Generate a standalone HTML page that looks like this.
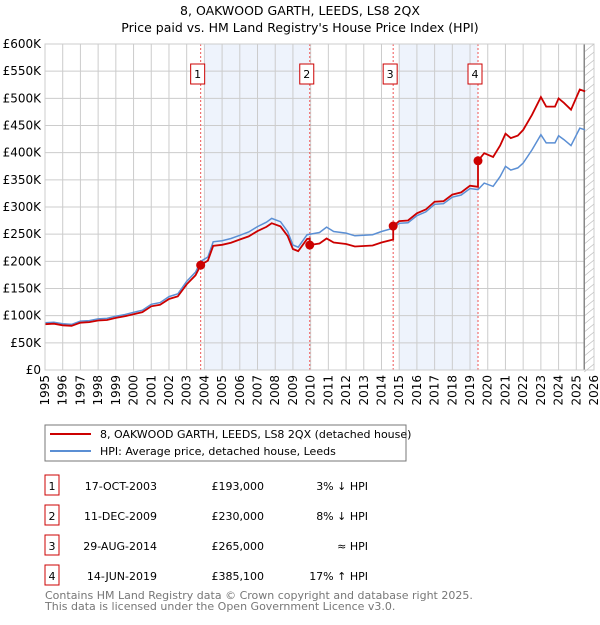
<!DOCTYPE html>
<html><head><meta charset="utf-8"><style>
body{margin:0;width:600px;height:620px;background:#fff;font-family:"Liberation Sans","DejaVu Sans",sans-serif;overflow:hidden}
svg text{font-family:"DejaVu Sans","Liberation Sans",sans-serif}
</style></head><body>
<svg id="c" width="600" height="620" xmlns="http://www.w3.org/2000/svg">
<text x="300" y="15" text-anchor="middle" font-size="12.5">8, OAKWOOD GARTH, LEEDS, LS8 2QX</text>
<text x="300" y="32" text-anchor="middle" font-size="12.5">Price paid vs. HM Land Registry's House Price Index (HPI)</text>
<g id="plot"></g>
<rect x="45" y="425" width="361" height="36" fill="#fff" stroke="#777"/>
<line x1="50" y1="434" x2="91" y2="434" stroke="#cc0000" stroke-width="2"/>
<text x="100" y="438" font-size="11">8, OAKWOOD GARTH, LEEDS, LS8 2QX (detached house)</text>
<line x1="50" y1="451" x2="91" y2="451" stroke="#5b8fd4" stroke-width="2"/>
<text x="100" y="455" font-size="11">HPI: Average price, detached house, Leeds</text>
<g id="table" font-size="11"></g>
<text x="45" y="599" font-size="11" fill="#777">Contains HM Land Registry data © Crown copyright and database right 2025.</text>
<text x="45" y="610" font-size="11" fill="#777">This data is licensed under the Open Government Licence v3.0.</text>
</svg>
<script>
const hpiYears=[1995,1995.5,1996,1996.5,1997,1997.5,1998,1998.5,1999,1999.5,2000,2000.5,2001,2001.5,2002,2002.5,2003,2003.5,2003.8,2004.2,2004.5,2005,2005.5,2006,2006.5,2007,2007.5,2007.8,2008.3,2008.7,2009,2009.3,2009.8,2010.5,2010.9,2011.3,2012,2012.5,2013,2013.5,2014,2014.66,2015,2015.5,2016,2016.5,2017,2017.5,2018,2018.5,2019,2019.45,2019.8,2020.3,2020.7,2021,2021.3,2021.7,2022,2022.5,2023,2023.3,2023.8,2024,2024.3,2024.7,2025.2,2025.5];
const hpiValues=[87,88,85,84,90,91,94,95,99,102,106,110,121,124,135,140,163,180,200,208,236,238,242,248,254,264,272,279,273,255,230,226,249,253,263,255,252,247,248,249,255,261,270,271,284,291,305,306,318,322,334,332,344,338,356,375,368,372,381,405,433,418,418,431,424,413,445,442];
const saleNums=["1","2","3","4"];
const saleDates=["17-OCT-2003","11-DEC-2009","29-AUG-2014","14-JUN-2019"];
const saleYears=[2003.79,2009.95,2014.66,2019.45];
const salePrices=[193000,230000,265000,385100];
const saleNotes=["3% ↓ HPI","8% ↓ HPI","≈ HPI","17% ↑ HPI"];
const yTicks=[0,50,100,150,200,250,300,350,400,450,500,550,600];
const xTicks=[];for(let y=1995;y<=2026;y++)xTicks.push(y);

const X0=45,X1=594,Y0=370,Y1=44;
const xs=y=>X0+(y-1995)/31*(X1-X0);
const ys=v=>Y0-v/600*(Y0-Y1);
const NS="http://www.w3.org/2000/svg";
const g=document.getElementById('plot');
function mk(t,a,p){const e=document.createElementNS(NS,t);for(const k in a)e.setAttribute(k,a[k]);(p||g).appendChild(e);return e;}
function hpiAt(t){for(let i=0;i<hpiYears.length-1;i++){if(t<=hpiYears[i+1]){const f=(t-hpiYears[i])/(hpiYears[i+1]-hpiYears[i]);return hpiValues[i]+f*(hpiValues[i+1]-hpiValues[i]);}}return hpiValues[hpiValues.length-1];}
[[0,1],[2,3]].forEach((p,i)=>{const r=mk('rect',{x:xs(Math.ceil(saleYears[p[0]])),y:Y1,width:xs(saleYears[p[1]])-xs(Math.ceil(saleYears[p[0]])),height:Y0-Y1,fill:'#eef3fc'});

});
yTicks.forEach(v=>{const l=mk('line',{x1:X0,x2:X1,y1:ys(v),y2:ys(v),stroke:'#ccc'});


const t=mk('text',{x:X0-4,y:ys(v)+4,'text-anchor':'end','font-size':12});t.textContent=v===0?'£0':'£'+v+'K';

});
xTicks.forEach(y=>{const l=mk('line',{x1:xs(y),x2:xs(y),y1:Y1,y2:Y0,stroke:'#ccc'});


const t=mk('text',{x:0,y:0,'font-size':12,'text-anchor':'end',transform:`translate(${xs(y)+4},${Y0+5}) rotate(-90)`});t.textContent=y;

});
const hx=xs(2025.45);
const hr=mk('rect',{x:hx,y:Y1,width:X1-hx,height:Y0-Y1,fill:'#fff',stroke:'none'});


for(let k=Y1;k<Y0;k+=8){const l=mk('line',{x1:hx,y1:k+8,x2:X1,y2:k,stroke:'#bbb','stroke-width':0.7});}
const hl=mk('line',{x1:hx,x2:hx,y1:Y1,y2:Y0,stroke:'#888','stroke-width':1.5});


saleYears.forEach((y,i)=>{const l=mk('line',{x1:xs(y),x2:xs(y),y1:Y1,y2:Y0,stroke:'#e55','stroke-dasharray':'2,2'});


const bx=xs(y)-10,r=mk('rect',{x:bx,y:64,width:14,height:20,fill:'#fff',stroke:'#cc0000'});


const t=mk('text',{x:bx+7,y:78,'text-anchor':'middle','font-size':11});t.textContent=saleNums[i];

});
const hp=mk('path',{d:hpiYears.map((y,i)=>(i?'L':'M')+xs(y).toFixed(1)+','+ys(hpiValues[i]).toFixed(1)).join(''),fill:'none',stroke:'#5b8fd4','stroke-width':1.5});


let pts=[];const first=salePrices[0]/1000/hpiAt(saleYears[0]);
function ratioAt(t){let r=first;saleYears.forEach((sy,i)=>{if(t>=sy)r=salePrices[i]/1000/hpiAt(sy);});return r;}
const allT=hpiYears.concat(saleYears.map(s=>s-0.001),saleYears).sort((a,b)=>a-b);
allT.forEach(t=>pts.push([t,hpiAt(t)*ratioAt(t)]));
const pp=mk('path',{d:pts.map((p,i)=>(i?'L':'M')+xs(p[0]).toFixed(1)+','+ys(p[1]).toFixed(1)).join(''),fill:'none',stroke:'#cc0000','stroke-width':1.8});


saleYears.forEach((y,i)=>{const c=mk('circle',{cx:xs(y),cy:ys(salePrices[i]/1000),r:4.5,fill:'#cc0000'});

});
mk('rect',{x:X0,y:Y1,width:X1-X0,height:Y0-Y1,fill:'none',stroke:'#ccc'});
const tb=document.getElementById('table');
saleNums.forEach((n,i)=>{const y=488+i*30;
const b=mk('rect',{x:45,y:y-13,width:14,height:20,fill:'#fff',stroke:'#cc0000'},tb);


const cols=[[52,n,'middle'],[157,saleDates[i],'end'],[264,'£'+salePrices[i].toLocaleString('en-GB'),'end'],[368,saleNotes[i],'end']];
const nm=['table-num','table-date','table-price','table-hpi-note'];
cols.forEach((c,j)=>{const t=mk('text',{x:c[0],y:y+2,'text-anchor':c[2]},tb);t.textContent=c[1];

});});
</script>
</body></html>
